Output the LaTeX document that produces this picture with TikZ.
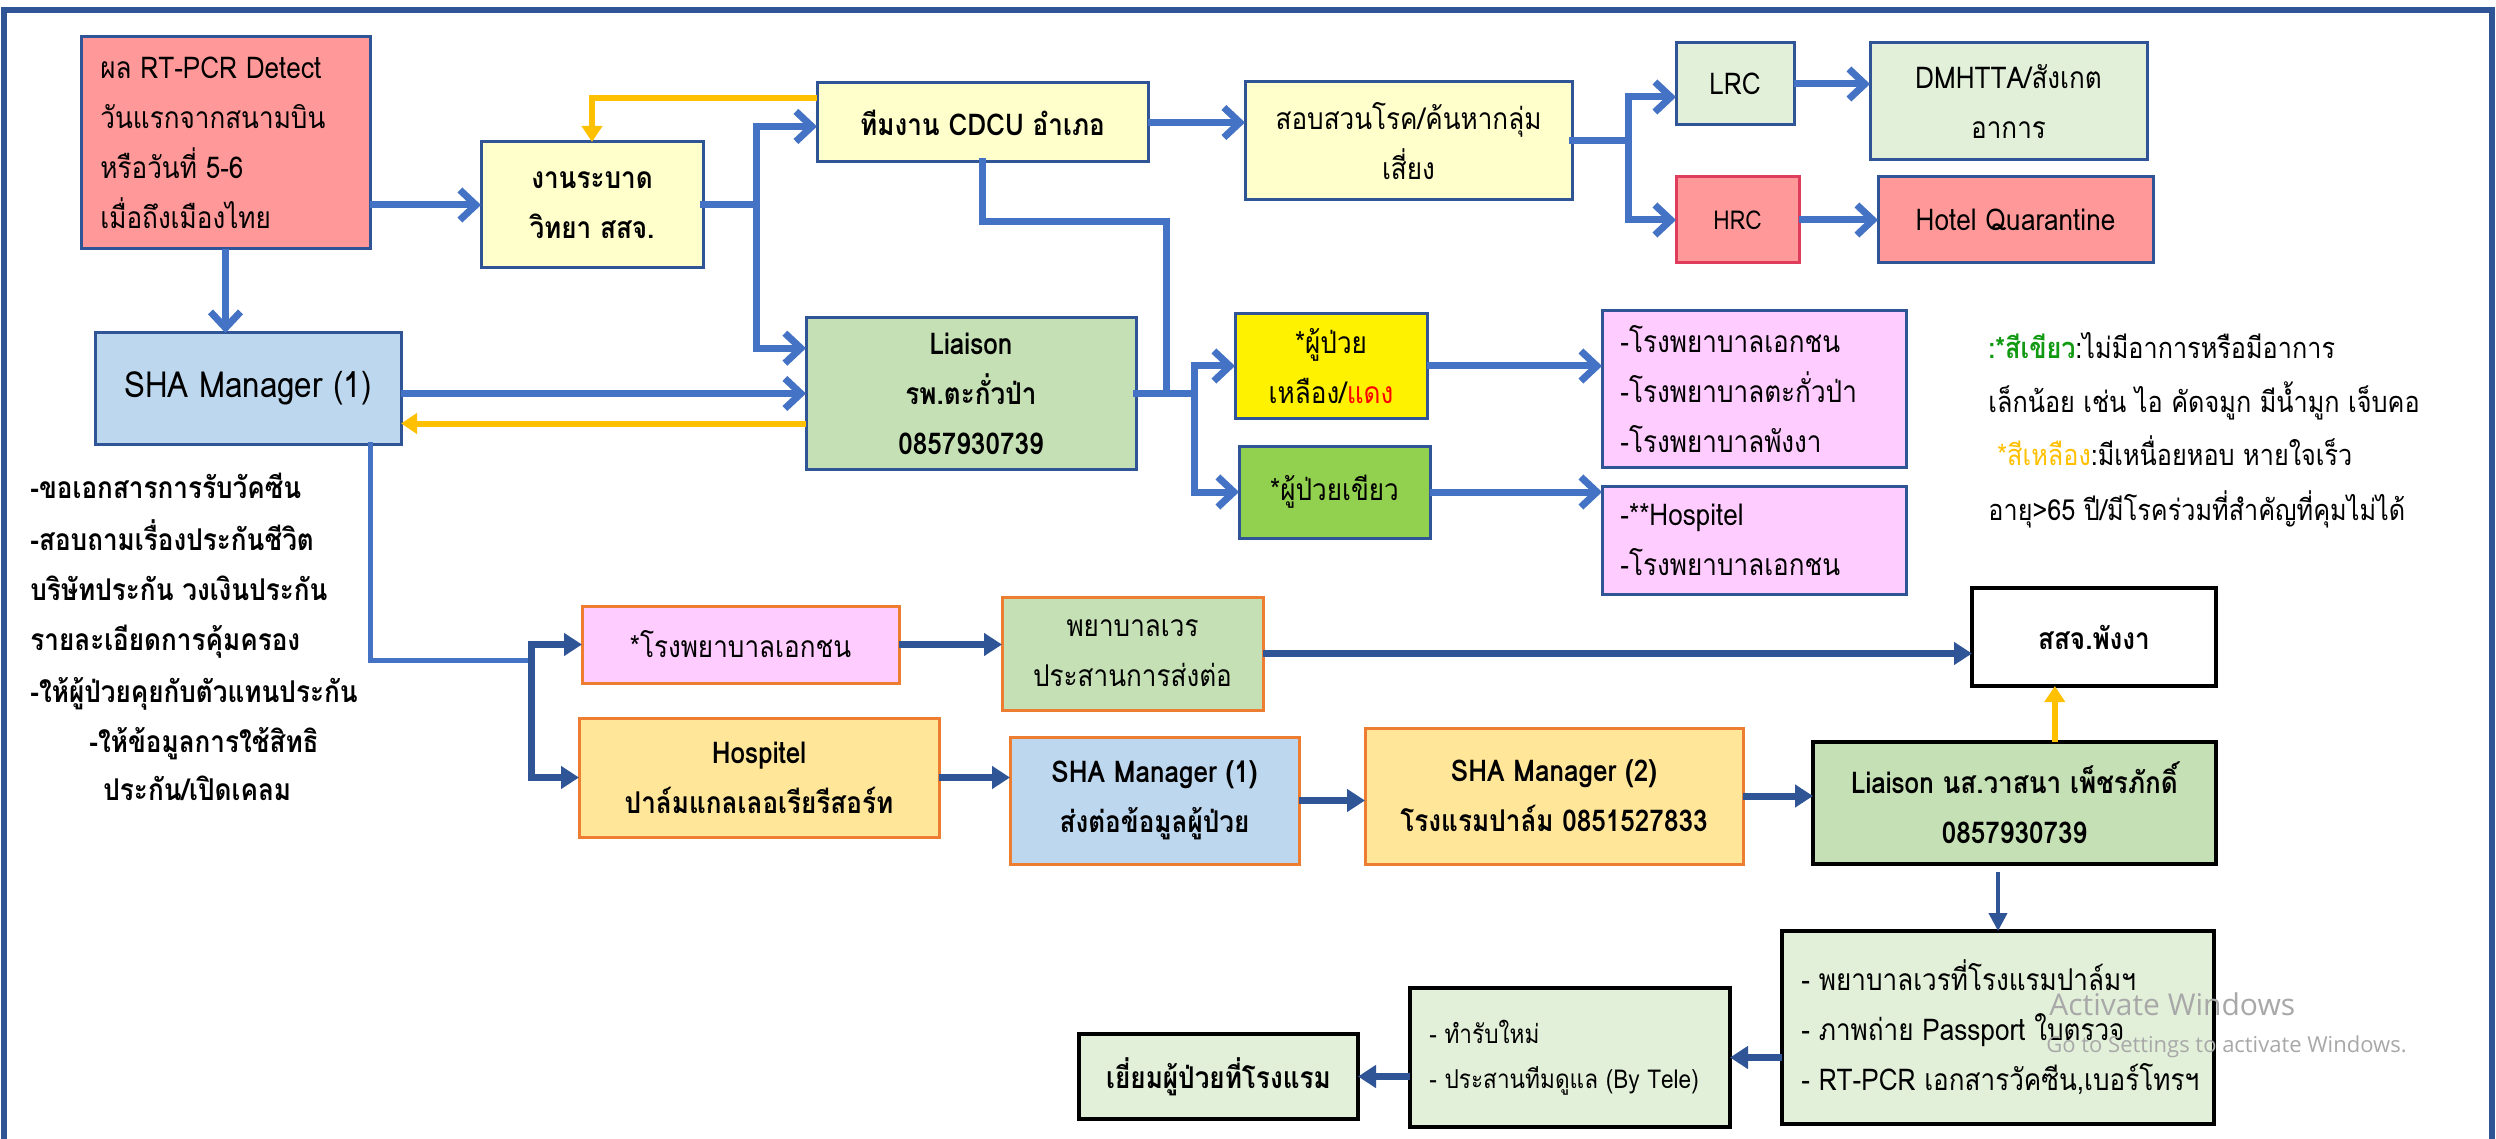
\documentclass[tikz,border=0pt]{standalone}
\usepackage{fontspec}
\setmainfont[Script=Thai, FakeStretch=0.87]{Loma}
\newfontfamily\wmfont{Open Sans}
\usetikzlibrary{arrows.meta,calc}
\definecolor{bdr}{HTML}{2F5597}
\definecolor{ablue}{HTML}{4472C4}
\definecolor{dblue}{HTML}{2F5597}
\definecolor{ayel}{HTML}{FFC000}
\definecolor{cred}{HTML}{FF9999}
\definecolor{cbred}{HTML}{E03C5C}
\definecolor{cyel}{HTML}{FFFFCC}
\definecolor{clg}{HTML}{E2F0D9}
\definecolor{cblue}{HTML}{BDD7EE}
\definecolor{cgreen}{HTML}{C5E0B4}
\definecolor{cgrn}{HTML}{92D050}
\definecolor{cpink}{HTML}{FFCCFF}
\definecolor{corange}{HTML}{ED7D31}
\definecolor{cgold}{HTML}{FFE699}
\definecolor{lgreen}{HTML}{119A11}
\definecolor{wmgray}{HTML}{A8A8A8}
\newcommand\fsz[2]{\fontsize{#1}{#2}\selectfont}
% centred box: name, x1,y1,x2,y2, style, text
\newcommand\bx[7]{%
  \pgfmathsetmacro\bxcx{(#2+#4)/2}\pgfmathsetmacro\bxcy{(#3+#5)/2}%
  \pgfmathsetmacro\bxw{(#4-#2)*0.5}\pgfmathsetmacro\bxh{(#5-#3)*0.5}%
  \node[#6, minimum width=\bxw pt, minimum height=\bxh pt] (#1) at (\bxcx,\bxcy) {#7};%
}
% box with left-aligned text: name, x1,y1,x2,y2, style, text style, text, text left x
\newcommand\lbx[9]{%
  \pgfmathsetmacro\bxcx{(#2+#4)/2}\pgfmathsetmacro\bxcy{(#3+#5)/2}%
  \pgfmathsetmacro\bxw{(#4-#2)*0.5}\pgfmathsetmacro\bxh{(#5-#3)*0.5}%
  \node[#6, minimum width=\bxw pt, minimum height=\bxh pt] (#1) at (\bxcx,\bxcy) {};%
  \node[inner sep=0pt, anchor=west, align=left, #7] (#1-t) at (#9,\bxcy) {#8};%
}
\tikzset{
  bx/.style={draw=bdr, line width=1.5pt, inner sep=0pt, outer sep=0pt, align=center, font=\fsz{15}{25}},
  bold/.style={font=\fsz{15}{25}\bfseries},
  reg/.style={font=\fsz{15}{25}},
  blk/.style={draw=black, line width=2pt},
  org/.style={draw=corange, line width=1.5pt},
  arr/.style={draw=ablue, line width=3.5pt, -{Straight Barb[length=8pt,width=15pt]}},
  ln/.style={draw=ablue, line width=3.5pt, line cap=rect},
  ln2/.style={draw=ablue, line width=2.5pt, line cap=rect},
  yarr/.style={draw=ayel, line width=3pt, -{Triangle[length=8pt,width=10pt]}},
  darr/.style={draw=dblue, line width=3.5pt, -{Triangle[length=9pt,width=11pt]}},
  darrthin/.style={draw=dblue, line width=2pt, -{Triangle[length=9pt,width=9pt]}},
  note/.style={inner sep=0pt, anchor=base west, font=\fsz{15}{25}\bfseries},
  leg/.style={inner sep=0pt, anchor=base west, font=\fsz{14.5}{25}},
  wm/.style={inner sep=0pt, anchor=base west, text=wmgray},
  frame/.style={draw=bdr, line width=3pt}
}
\begin{document}
\begin{tikzpicture}[x=0.5pt,y=-0.5pt]
\useasboundingbox (0,0) rectangle (2496,1139);
\fill[white] (0,0) rectangle (2496,1139);
\draw[frame] (4,1139) -- (4,10) -- (2492,10) -- (2492,1139);

% upper boxes
\lbx{red}{81}{37}{370}{249}{bx, fill=cred}{reg}{ผล RT-PCR Detect\\วันแรกจากสนามบิน\\หรือวันที่ 5-6\\เมื่อถึงเมืองไทย}{100}
\bx{epi}{481}{142}{703}{268}{bx, fill=cyel, bold}{งานระบาด\\วิทยา สสจ.}
\bx{cdcu}{817}{83}{1148}{162}{bx, fill=cyel, bold}{ทีมงาน CDCU อำเภอ}
\bx{inv}{1245}{82}{1572}{200}{bx, fill=cyel}{สอบสวนโรค/ค้นหากลุ่ม\\เสี่ยง}
\bx{lrc}{1676}{43}{1794}{125}{bx, fill=clg}{LRC}
\bx{dmh}{1870}{43}{2147}{160}{bx, fill=clg}{DMHTTA/สังเกต\\อาการ}
\bx{hrc}{1676}{177}{1799}{263}{bx, draw=cbred, fill=cred, font=\fsz{13}{20}}{HRC}
\bx{hq}{1878}{177}{2153}{263}{bx, fill=cred}{Hotel Quarantine}
\bx{sha}{95}{333}{401}{444}{bx, fill=cblue, font=\fsz{18}{25}}{SHA Manager (1)}
\bx{lia}{806}{318}{1136}{469}{bx, fill=cgreen, bold}{Liaison\\รพ.ตะกั่วป่า\\0857930739}
\bx{ylw}{1235}{314}{1427}{418}{bx, fill=yellow}{*ผู้ป่วย\\เหลือง/\textcolor{red}{แดง}}
\bx{grn}{1239}{446}{1430}{538}{bx, fill=cgrn}{*ผู้ป่วยเขียว}
\lbx{pk1}{1602}{311}{1906}{467}{bx, fill=cpink}{reg}{-โรงพยาบาลเอกชน\\-โรงพยาบาลตะกั่วป่า\\-โรงพยาบาลพังงา}{1620}
\lbx{pk2}{1602}{486}{1906}{594}{bx, fill=cpink}{reg}{-**Hospitel\\-โรงพยาบาลเอกชน}{1620}

% lower boxes
\bx{pvt}{582}{606}{899}{683}{bx, org, fill=cpink}{*โรงพยาบาลเอกชน}
\bx{nurse}{1002}{597}{1263}{710}{bx, org, fill=cgreen}{พยาบาลเวร\\ประสานการส่งต่อ}
\bx{hosp}{579}{718}{939}{837}{bx, org, fill=cgold, bold}{Hospitel\\ปาล์มแกลเลอเรียรีสอร์ท}
\bx{shaA}{1010}{737}{1299}{864}{bx, org, fill=cblue, bold}{SHA Manager (1)\\ส่งต่อข้อมูลผู้ป่วย}
\bx{shaB}{1365}{728}{1743}{864}{bx, org, fill=cgold, bold}{SHA Manager (2)\\โรงแรมปาล์ม 0851527833}
\bx{pph}{1972}{588}{2216}{686}{bx, blk, fill=white, bold}{สสจ.พังงา}
\bx{lia2}{1813}{742}{2216}{864}{bx, blk, fill=cgreen, bold}{Liaison นส.วาสนา เพ็ชรภักดิ์\\0857930739}
\lbx{bA}{1782}{931}{2214}{1124}{bx, blk, fill=clg}{reg}{- พยาบาลเวรที่โรงแรมปาล์มฯ\\- ภาพถ่าย Passport ใบตรวจ\\- RT-PCR เอกสารวัคซีน,เบอร์โทรฯ}{1801}
\lbx{bB}{1410}{988}{1730}{1127}{bx, blk, fill=clg}{font=\fsz{13}{22.5}}{- ทำรับใหม่\\- ประสานทีมดูแล (By Tele)}{1429}
\bx{bC}{1079}{1034}{1358}{1119}{bx, blk, fill=clg, bold}{เยี่ยมผู้ป่วยที่โรงแรม}

% left notes
\node[note] (n1) at (30,498) {-ขอเอกสารการรับวัคซีน};
\node[note] (n2) at (30,550) {-สอบถามเรื่องประกันชีวิต};
\node[note] (n3) at (30,600) {บริษัทประกัน วงเงินประกัน};
\node[note] (n4) at (30,650) {รายละเอียดการคุ้มครอง};
\node[note] (n5) at (30,702) {-ให้ผู้ป่วยคุยกับตัวแทนประกัน};
\node[note] (n6) at (89,752) {-ให้ข้อมูลการใช้สิทธิ};
\node[note] (n7) at (103,800) {ประกัน/เปิดเคลม};

% legend
\node[leg] (g1) at (1988,358) {\textcolor{lgreen}{\bfseries :*สีเขียว}:ไม่มีอาการหรือมีอาการ};
\node[leg] (g2) at (1988,412) {เล็กน้อย เช่น ไอ คัดจมูก มีน้ำมูก เจ็บคอ};
\node[leg] (g3) at (1997,465) {\textcolor{ayel}{*สีเหลือง}:มีเหนื่อยหอบ หายใจเร็ว};
\node[leg] (g4) at (1988,520) {อายุ>65 ปี/มีโรคร่วมที่สำคัญที่คุมไม่ได้};

% upper connectors
\draw[arr] (red.east |- epi.west) -- (epi.west);
\draw[arr] (red.south) -- (red.south |- sha.north);
\coordinate (b1) at (756,205);
\draw[ln] (epi.east) -- (b1);
\draw[arr] (b1) |- ($(cdcu.north west)!0.55!(cdcu.south west)$);
\draw[arr] (b1) |- ($(lia.north west)!0.2!(lia.south west)$);
\draw[yarr] ($(cdcu.north west)!0.19!(cdcu.south west)$) -| (epi.north);
\draw[arr] (cdcu.east) -- (cdcu.east -| inv.west);
\coordinate (c1) at (1166,222);
\coordinate (j1) at (1166,393.5);
\draw[ln] (cdcu.south) |- (c1) -- (j1);
\coordinate (b2) at (1194,393.5);
\draw[ln] (lia.east) -- (b2);
\draw[arr] (b2) |- (ylw.west);
\draw[arr] (b2) |- (grn.west);
\coordinate (b4) at (1628,141);
\draw[ln] (inv.east) -- (b4);
\draw[arr] (b4) |- ($(lrc.west)+(0,13)$);
\draw[arr] (b4) |- (hrc.west);
\draw[arr] (lrc.east) -- (lrc.east -| dmh.west);
\draw[arr] (hrc.east) -- (hrc.east -| hq.west);
\draw[arr] (sha.east |- lia.west) -- (lia.west);
\coordinate (ya) at ($(lia.west)+(0,30)$);
\draw[yarr] (ya) -- (ya -| sha.east);
\draw[arr] (ylw.east) -- (ylw.east -| pk1.west);
\draw[arr] (grn.east) -- (grn.east -| pk2.west);

% lower connectors
\coordinate (s1) at ($(sha.south east)!0.1!(sha.south west)$);
\coordinate (b3) at (531,660);
\draw[ln2] (s1) |- (b3);
\draw[darr] (b3) |- (pvt.west);
\draw[darr] (b3) |- (hosp.west);
\draw[darr] (pvt.east) -- (pvt.east -| nurse.west);
\draw[darr] (nurse.east) -- (nurse.east -| pph.west);
\draw[darr] (hosp.east) -- (hosp.east -| shaA.west);
\draw[darr] (shaA.east) -- (shaA.east -| shaB.west);
\draw[darr] (shaB.east) -- (shaB.east -| lia2.west);
\coordinate (ly) at ($(lia2.north west)!0.6!(lia2.north east)$);
\draw[yarr] (ly) -- (ly |- pph.south);
\draw[darrthin, shorten <=4pt] (bA.north |- lia2.south) -- (bA.north);
\draw[darr] (bA.west |- bB.east) -- (bB.east);
\draw[darr] (bB.west |- bC.east) -- (bC.east);

% watermark
\node[wm, font=\wmfont\fsz{15}{18}] (w1) at (2049,1015) {Activate Windows};
\node[wm, font=\wmfont\fsz{11}{14}] (w2) at (2046,1052) {Go to Settings to activate Windows.};
\end{tikzpicture}
\end{document}
